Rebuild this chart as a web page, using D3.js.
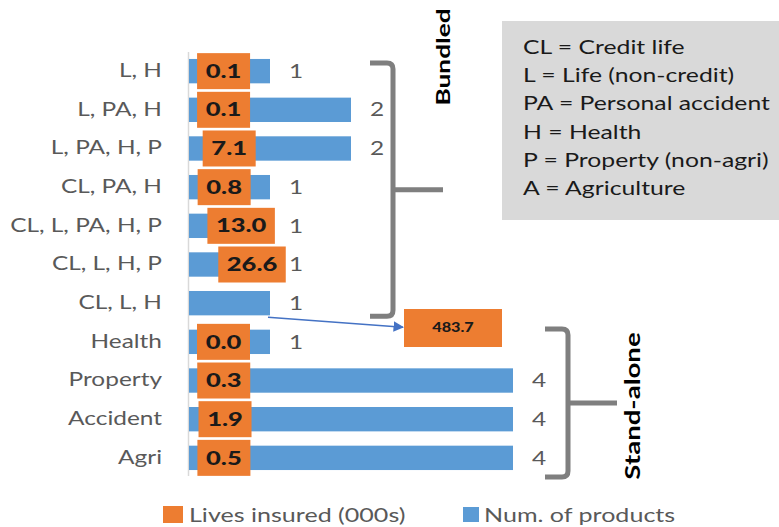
<!DOCTYPE html>
<html><head><meta charset="utf-8">
<script src="https://cdn.jsdelivr.net/npm/d3@7/dist/d3.min.js"></script>
<style>body{margin:0;background:#fff}svg{display:block}text{font-family:Lato,"Open Sans",sans-serif}</style>
</head><body><svg id="c" width="779" height="527"></svg>
<script>
const categories = ["L, H","L, PA, H","L, PA, H, P","CL, PA, H","CL, L, PA, H, P","CL, L, H, P","CL, L, H","Health","Property","Accident","Agri"];
const numProducts = [1,2,2,1,1,1,1,1,4,4,4];
const livesInsured = [0.1,0.1,7.1,0.8,13.0,26.6,null,0.0,0.3,1.9,0.5];
const outlierLabel = "483.7"; // lives insured for CL, L, H (shown as callout)
const abbreviations = ["CL = Credit life","L = Life (non-credit)","PA = Personal accident","H = Health","P = Property (non-agri)","A = Agriculture"];
const groups = [{name:"Bundled", from:0, to:6},{name:"Stand-alone", from:7, to:10}];
const legendItems = [{label:"Lives insured (000s)", color:"#ED7D31"},{label:"Num. of products", color:"#5B9BD5"}];

const svg = d3.select("#c");
const blue = "#5B9BD5", orange = "#ED7D31", grayTxt = "#595959";
const SX = 1.32; // horizontal text stretch

function stext(parent, x, y, str, opts){
  const t = parent.append("text").attr("transform",`translate(${x},${y}) scale(${opts.sx||SX},1)`)
    .attr("font-size",opts.size).attr("fill",opts.fill||grayTxt).text(str);
  if(opts.weight) t.attr("font-weight",opts.weight);
  if(opts.anchor) t.attr("text-anchor",opts.anchor);
  if(opts.dy) t.attr("dy",opts.dy);
  return t;
}

const y = d3.scaleBand().domain(categories).range([52, 477]).paddingInner(0.37).paddingOuter(0.18);
const x = d3.scaleLinear().domain([0,4]).range([189, 513]);
const xL = d3.scaleLinear().domain([0,500]).range([189, 589]);

// info box
svg.append("rect").attr("x",502).attr("y",21).attr("width",290).attr("height",199).attr("fill","#d9d9d9");
const ib = svg.append("g");
abbreviations.forEach((d,i)=>stext(ib,523,54+i*28.2,d,{size:19.2,fill:"#1a1a1a",sx:1.29}));

// axis line
svg.append("line").attr("x1",188.5).attr("x2",188.5).attr("y1",52).attr("y2",476).attr("stroke","#d9d9d9").attr("stroke-width",1.5);

// category labels
const yAxis = d3.axisLeft(y).tickSize(0).tickPadding(0);
const ga = svg.append("g").attr("transform",`translate(162,0) scale(${SX},1)`).call(yAxis);
ga.select(".domain").remove();
ga.selectAll("text").attr("font-size",18.5).attr("fill",grayTxt).attr("font-family","Lato, sans-serif");

// blue bars
svg.append("g").selectAll("rect").data(categories).join("rect")
  .attr("x",x(0)).attr("y",d=>y(d)).attr("height",y.bandwidth())
  .attr("width",(d,i)=>x(numProducts[i])-x(0)).attr("fill",blue);

// blue value labels
const vl = svg.append("g");
categories.forEach((c,i)=>{
  stext(vl, x(numProducts[i])+19, y(c)+y.bandwidth()/2, String(numProducts[i]), {size:18.5, dy:"0.36em"});
});

// orange label boxes
const lab = svg.append("g");
categories.forEach((c,i)=>{
  const v = livesInsured[i];
  if(v===null) return;
  const g = lab.append("g");
  const cy = y(c)+y.bandwidth()/2;
  const x0 = xL(v)+8;
  const t = stext(g,0,cy,v.toFixed(1),{size:18.5,weight:900,fill:"#1a1a1a",anchor:"middle",dy:"0.36em",sx:1.38});
  const w = t.node().getComputedTextLength()*1.38;
  const bw = Math.max(53, w+17);
  g.insert("rect","text").attr("x",x0).attr("y",cy-18).attr("width",bw).attr("height",36).attr("fill",orange);
  t.attr("transform",`translate(${x0+bw/2},${cy}) scale(1.38,1)`).attr("y",0);
});

// callout for outlier
const rowO = "CL, L, H";
const ocy = y(rowO)+y.bandwidth()/2;
svg.append("defs").append("marker").attr("id","ah").attr("viewBox","0 0 10 10").attr("refX",9).attr("refY",5)
  .attr("markerWidth",7).attr("markerHeight",7).attr("orient","auto")
  .append("path").attr("d","M0,0L10,5L0,10Z").attr("fill","#4472C4");
svg.append("line").attr("x1",x(1)-2).attr("y1",ocy+14).attr("x2",403).attr("y2",ocy+24)
  .attr("stroke","#4472C4").attr("stroke-width",1.5).attr("marker-end","url(#ah)");
svg.append("rect").attr("x",404).attr("y",309).attr("width",98).attr("height",38).attr("fill",orange);
stext(svg,453,327,outlierLabel,{size:13,weight:900,fill:"#1a1a1a",anchor:"middle",dy:"0.36em",sx:1.25});

// brackets
function bracket(x0, xv, yTop, yBot, xTick){
  const r = 6, ym = (yTop+yBot)/2;
  svg.append("path").attr("d",`M${x0},${yTop}H${xv-r}Q${xv},${yTop} ${xv},${yTop+r}V${yBot-r}Q${xv},${yBot} ${xv-r},${yBot}H${x0}M${xv},${ym}H${xTick}`)
    .attr("fill","none").attr("stroke","#7f7f7f").attr("stroke-width",5);
}
const b = groups[0], s = groups[1];
bracket(370, 393, y(categories[b.from])+4, y(categories[b.to])+y.bandwidth()+1, 443);
bracket(545, 568, 329, 477, 617);
svg.append("text").attr("transform","translate(450,57) rotate(-90) scale(1.35,1)").attr("text-anchor","middle")
  .attr("font-size",19.5).attr("font-weight",700).attr("fill","#000").text(b.name);
svg.append("text").attr("transform","translate(640,406) rotate(-90) scale(1.38,1)").attr("text-anchor","middle")
  .attr("font-size",20).attr("font-weight",700).attr("fill","#000").text(s.name);

// legend
const lg = svg.append("g");
const lx = [163, 463];
legendItems.forEach((d,i)=>{
  lg.append("rect").attr("x",lx[i]).attr("y",i===0?506:507).attr("width",i===0?20:16).attr("height",i===0?17:15).attr("fill",d.color);
  stext(lg, lx[i]+(i===0?26:21), 515, d.label, {size:19, dy:"0.36em"});
});
</script></body></html>
